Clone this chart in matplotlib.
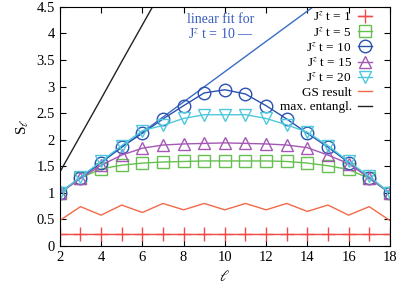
import numpy as np
import matplotlib
matplotlib.use("Agg")
import matplotlib.pyplot as plt

plt.rcParams['font.family'] = ['Liberation Serif', 'DejaVu Serif']
plt.rcParams['mathtext.fontset'] = 'stix'

ell = list(range(2, 19))

s_t1 = [0.23] * 17
s_t5 = [1.0, 1.28, 1.45, 1.52, 1.56, 1.58, 1.59, 1.60, 1.60, 1.60, 1.60, 1.59, 1.56, 1.51, 1.44, 1.27, 1.0]
s_t10 = [1.0, 1.28, 1.57, 1.87, 2.12, 2.39, 2.64, 2.88, 2.94, 2.86, 2.64, 2.39, 2.12, 1.86, 1.57, 1.28, 1.0]
s_t15 = [1.0, 1.27, 1.52, 1.71, 1.84, 1.90, 1.92, 1.93, 1.94, 1.93, 1.92, 1.90, 1.85, 1.71, 1.55, 1.28, 1.0]
s_t20 = [1.0, 1.30, 1.59, 1.89, 2.17, 2.27, 2.40, 2.47, 2.47, 2.47, 2.40, 2.28, 2.14, 1.89, 1.59, 1.31, 1.0]
s_gs = [0.48, 0.74, 0.58, 0.77, 0.63, 0.80, 0.68, 0.80, 0.68, 0.80, 0.68, 0.80, 0.65, 0.77, 0.58, 0.74, 0.48]

max_x = [2, 3, 4, 5, 6, 7, 8]
max_y = [1.39, 2.08, 2.77, 3.47, 4.16, 4.85, 5.55]

fit_x = [2, 18]
fit_y = [1.0, 5.56]

fig = plt.figure(figsize=(3.99, 2.86), dpi=100)
ax = fig.add_axes([0.150, 0.140, 0.827, 0.836])

ms = 8
ax.plot(fit_x, fit_y, color='#3b6cc4', lw=1.0)
ax.plot(ell, s_t1, color='#f04a4a', lw=1.0, marker='+', ms=ms + 2, mew=1.0, label='J$^z$ t = 1')
ax.plot(ell, s_t5, color='#66c050', lw=1.0, marker='s', ms=ms, mfc='none', mew=1.0, label='J$^z$ t = 5')
ax.plot(ell, s_t10, color='#2a52b0', lw=1.0, marker='o', ms=ms + 1, mfc='none', mew=1.0, label='J$^z$ t = 10')
ax.plot(ell, s_t15, color='#a458b4', lw=1.0, marker='^', ms=ms + 1, mfc='none', mew=1.0, label='J$^z$ t = 15')
ax.plot(ell, s_t20, color='#4ec8dc', lw=1.0, marker='v', ms=ms + 1, mfc='none', mew=1.0, label='J$^z$ t = 20')
ax.plot(ell, s_gs, color='#f26a48', lw=1.0, label='GS result')
ax.plot(max_x, max_y, color='#222222', lw=1.0, label='max. entangl.')

ax.set_xlim(2, 18)
ax.set_ylim(0, 4.5)
ax.set_xticks(range(2, 19, 2))
ax.set_yticks(np.arange(0, 4.51, 0.5))
ax.set_yticklabels(['0', '0.5', '1', '1.5', '2', '2.5', '3', '3.5', '4', '4.5'])
ax.tick_params(direction='in', top=True, right=True, length=4, labelsize=10.5)
ax.set_xlabel('$\\ell$', fontsize=11)
ax.set_ylabel('S$_\\ell$', fontsize=11)

ax.text(0.488, 0.975, 'linear fit for\nJ$^z$ t = 10 \u2014', transform=ax.transAxes,
        color='#3a5cc0', fontsize=10, ha='center', va='top', linespacing=1.1)

ax.legend(loc='upper right', frameon=False, markerfirst=False, fontsize=9.5,
          handlelength=1.0, handletextpad=0.5, labelspacing=0.17,
          borderaxespad=0.0, borderpad=0.0, bbox_to_anchor=(0.945, 0.985))

fig.savefig('out.png', dpi=100)
